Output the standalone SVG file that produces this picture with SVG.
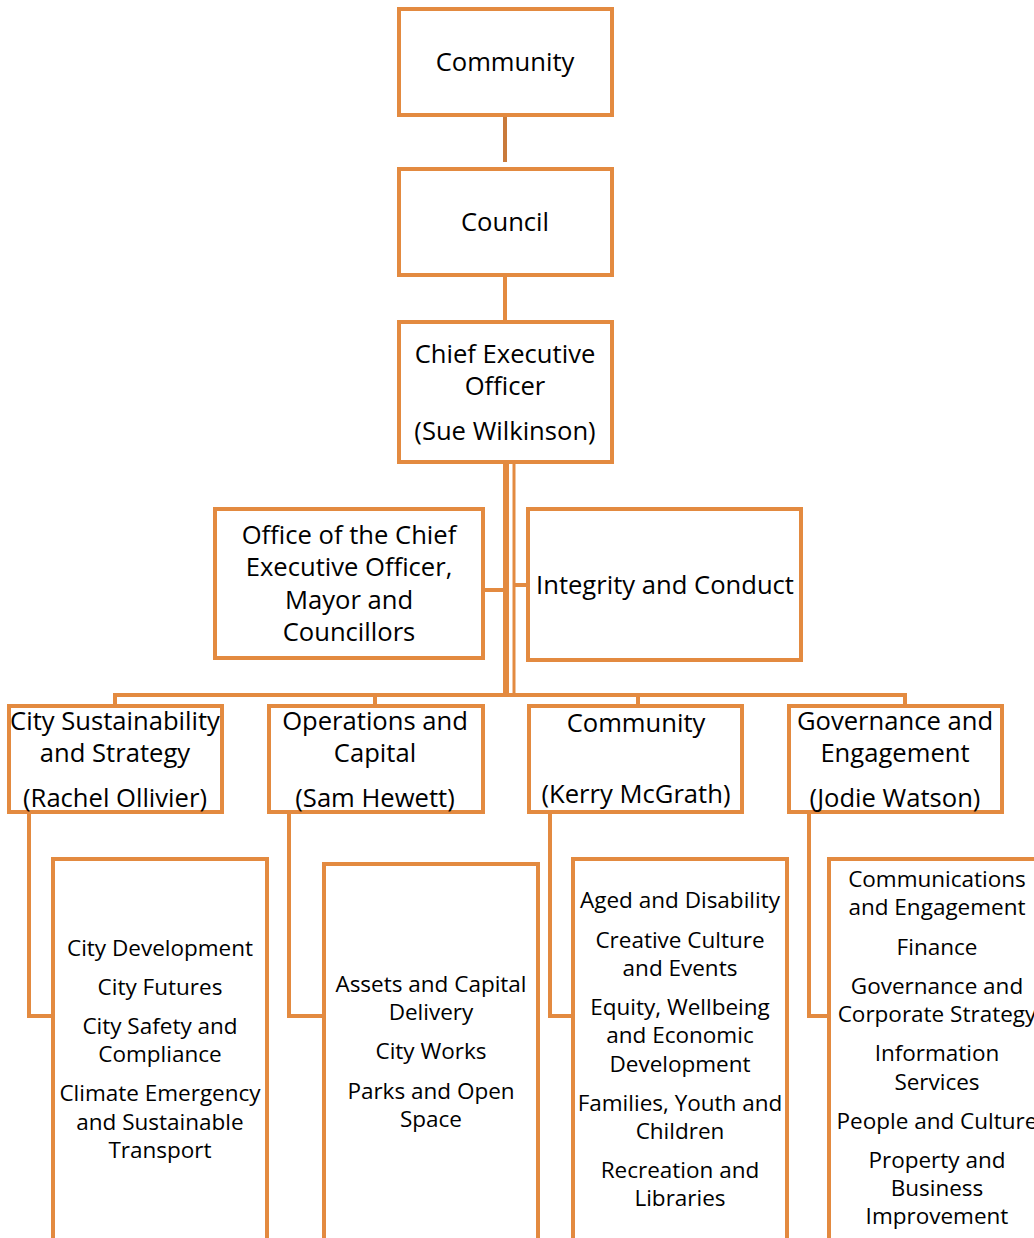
<svg xmlns="http://www.w3.org/2000/svg" width="1034" height="1238" viewBox="0 0 1034 1238">
<style>
.box{fill:#fff;stroke:#E38A40;stroke-width:4}
.ln{fill:none;stroke:#E38A40;stroke-width:4}
text{font-family:"Open Sans","Noto Sans",sans-serif;fill:#000;text-anchor:middle}
.h{font-size:25.6px}
.s{font-size:22.5px}
</style>
<rect width="1034" height="1238" fill="#fff"/>
<g id="connectors">
<line x1="505" y1="117" x2="505" y2="162" stroke="#C97A3A" stroke-width="4"/>
<line class="ln" x1="505" y1="277" x2="505" y2="320"/>
<line x1="506" y1="463" x2="506" y2="697" stroke="#E38A40" stroke-width="6"/>
<line x1="514" y1="463" x2="514" y2="697" stroke="#E38A40" stroke-width="3"/>
<line class="ln" x1="484" y1="590" x2="506" y2="590"/>
<line class="ln" x1="514" y1="585" x2="527" y2="585"/>
<polyline class="ln" points="115,704 115,695 905,695 905,704"/>
<line class="ln" x1="375" y1="695" x2="375" y2="704"/>
<line class="ln" x1="638" y1="695" x2="638" y2="704"/>
<polyline class="ln" points="29,813 29,1016 52,1016"/>
<polyline class="ln" points="289,813 289,1016 323,1016"/>
<polyline class="ln" points="550,813 550,1016 572,1016"/>
<polyline class="ln" points="809,813 809,1016 828,1016"/>
</g>
<g id="community-top">
<rect class="box" x="399" y="9" width="213" height="106"/>
<text class="h" x="505" y="71">Community</text>
</g>
<g id="council">
<rect class="box" x="399" y="169" width="213" height="106"/>
<text class="h" x="505" y="231">Council</text>
</g>
<g id="ceo">
<rect class="box" x="399" y="322" width="213" height="140"/>
<text class="h" x="505" y="363">Chief Executive</text>
<text class="h" x="505" y="395">Officer</text>
<text class="h" x="505" y="440">(Sue Wilkinson)</text>
</g>
<g id="office">
<rect class="box" x="215" y="509" width="268" height="149"/>
<text class="h" x="349" y="544">Office of the Chief</text>
<text class="h" x="349" y="576">Executive Officer,</text>
<text class="h" x="349" y="609">Mayor and</text>
<text class="h" x="349" y="641">Councillors</text>
</g>
<g id="integrity">
<rect class="box" x="528" y="509" width="273" height="151"/>
<text class="h" x="665" y="594">Integrity and Conduct</text>
</g>
<g id="city-sustainability">
<rect class="box" x="9" y="706" width="213" height="106"/>
<text class="h" x="115" y="730">City Sustainability</text>
<text class="h" x="115" y="762">and Strategy</text>
<text class="h" x="115" y="807">(Rachel Ollivier)</text>
</g>
<g id="operations">
<rect class="box" x="269" y="706" width="214" height="106"/>
<text class="h" x="375" y="730">Operations and</text>
<text class="h" x="375" y="762">Capital</text>
<text class="h" x="375" y="807">(Sam Hewett)</text>
</g>
<g id="community-dir">
<rect class="box" x="529" y="706" width="213" height="106"/>
<text class="h" x="636" y="732">Community</text>
<text class="h" x="636" y="803">(Kerry McGrath)</text>
</g>
<g id="governance">
<rect class="box" x="789" y="706" width="213" height="106"/>
<text class="h" x="895" y="730">Governance and</text>
<text class="h" x="895" y="762">Engagement</text>
<text class="h" x="895" y="807">(Jodie Watson)</text>
</g>
<g id="list-city">
<rect class="box" x="53" y="859" width="214" height="400"/>
<text class="s" x="160" y="956">City Development</text>
<text class="s" x="160" y="995">City Futures</text>
<text class="s" x="160" y="1034">City Safety and</text>
<text class="s" x="160" y="1062">Compliance</text>
<text class="s" x="160" y="1101">Climate Emergency</text>
<text class="s" x="160" y="1130">and Sustainable</text>
<text class="s" x="160" y="1158">Transport</text>
</g>
<g id="list-operations">
<rect class="box" x="324" y="864" width="214" height="400"/>
<text class="s" x="431" y="992">Assets and Capital</text>
<text class="s" x="431" y="1020">Delivery</text>
<text class="s" x="431" y="1059">City Works</text>
<text class="s" x="431" y="1099">Parks and Open</text>
<text class="s" x="431" y="1127">Space</text>
</g>
<g id="list-community">
<rect class="box" x="573" y="859" width="214" height="400"/>
<text class="s" x="680" y="908">Aged and Disability</text>
<text class="s" x="680" y="948">Creative Culture</text>
<text class="s" x="680" y="976">and Events</text>
<text class="s" x="680" y="1015">Equity, Wellbeing</text>
<text class="s" x="680" y="1043">and Economic</text>
<text class="s" x="680" y="1072">Development</text>
<text class="s" x="680" y="1111">Families, Youth and</text>
<text class="s" x="680" y="1139">Children</text>
<text class="s" x="680" y="1178">Recreation and</text>
<text class="s" x="680" y="1206">Libraries</text>
</g>
<g id="list-governance">
<rect class="box" x="829" y="859" width="214" height="400"/>
<text class="s" x="937" y="887">Communications</text>
<text class="s" x="937" y="915">and Engagement</text>
<text class="s" x="937" y="955">Finance</text>
<text class="s" x="937" y="994">Governance and</text>
<text class="s" x="937" y="1022">Corporate Strategy</text>
<text class="s" x="937" y="1061">Information</text>
<text class="s" x="937" y="1090">Services</text>
<text class="s" x="937" y="1129">People and Culture</text>
<text class="s" x="937" y="1168">Property and</text>
<text class="s" x="937" y="1196">Business</text>
<text class="s" x="937" y="1224">Improvement</text>
</g>
</svg>
